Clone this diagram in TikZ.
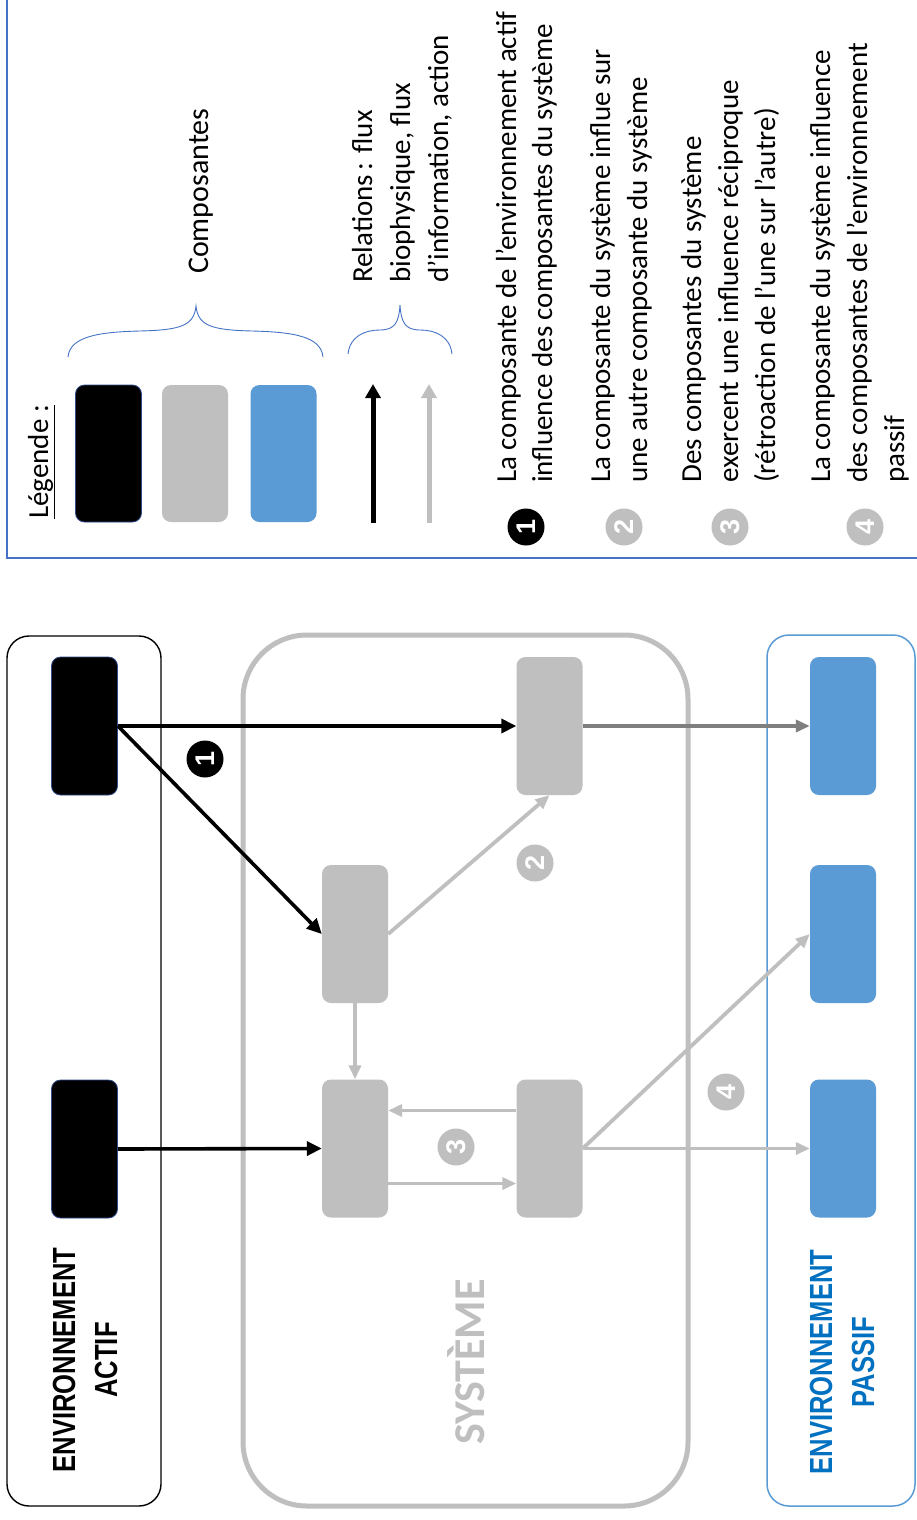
\documentclass[tikz,border=0pt]{standalone}
\usepackage{fontspec}
\setmainfont{Carlito}
\newfontfamily\headfont[FakeStretch=0.8]{Liberation Sans}
\newfontfamily\digitfont{Liberation Sans}
\usetikzlibrary{arrows.meta}
\definecolor{cgray}{HTML}{BFBFBF}
\definecolor{cdgray}{HTML}{7F7F7F}
\definecolor{cblue}{HTML}{5B9BD5}
\definecolor{cframe}{HTML}{4472C4}
\definecolor{ctblue}{HTML}{0070C0}
\definecolor{cdark}{HTML}{2F4B8C}
\begin{document}
\begin{tikzpicture}[x=1pt,y=-1pt,
  comp/.style={rectangle, rounded corners=9pt, minimum width=66pt, minimum height=138pt, inner sep=0pt},
  blackcomp/.style={comp, fill=black, draw=cdark, line width=0.8pt},
  graycomp/.style={comp, fill=cgray},
  bluecomp/.style={comp, fill=cblue},
  txt/.style={rotate=90, anchor=base west, inner sep=0pt, font=\fontsize{29}{35}\selectfont},
  numcirc/.style={circle, minimum size=37pt, inner sep=0pt, text=white, font=\digitfont\bfseries\fontsize{27}{27}\selectfont, rotate=90},
  blackarrow/.style={line width=3.6pt, draw=black, -{Triangle[length=15pt,width=14pt]}},
  grayarrow/.style={line width=3.8pt, draw=cgray, -{Triangle[length=14pt,width=12pt]}},
  dgrayarrow/.style={line width=3.8pt, draw=cdgray, -{Triangle[length=14pt,width=12pt]}},
  legarrow/.style={line width=5pt, -{Triangle[length=14pt,width=15pt]}},
  bracestyle/.style={draw=cframe, line width=0.9pt},
  headtxt/.style={rotate=90, align=center, inner sep=0pt, font=\headfont\bfseries\fontsize{32}{42}\selectfont},
]
\useasboundingbox (0,0) rectangle (916,1520);
\fill[white] (0,0) rectangle (916,1520);

% ---------- Legend ----------
\draw[cframe, line width=1.6pt] (7,-20) -- (7,558) -- (940,558);
\node[txt] (legtitle) at (48,519) {\underline{Légende :}};
\node[blackcomp, minimum width=66pt, minimum height=137pt] (lk) at (108.5,453.5) {};
\node[graycomp, minimum width=66pt, minimum height=137pt] (lg) at (195,453.5) {};
\node[bluecomp, minimum width=66pt, minimum height=137pt] (lb) at (283.5,453.5) {};
\draw[bracestyle] (68,357) .. controls (70,336) and (100,332) .. (140,331)
  .. controls (180,330) and (194,326) .. (196,306)
  .. controls (198,326) and (212,330) .. (252,331)
  .. controls (292,332) and (321,336) .. (323,357);
\node[txt, font=\fontsize{30}{36}\selectfont] (lcomp) at (208,274) {Composantes};
\coordinate (lka) at (373,523);
\coordinate (lkb) at (373,384);
\coordinate (lga) at (429,523);
\coordinate (lgb) at (429,384);
\draw[legarrow, draw=black] (lka) -- (lkb);
\draw[legarrow, draw=cgray] (lga) -- (lgb);
\draw[bracestyle] (348,354) .. controls (350,336) and (365,330) .. (380,330)
  .. controls (395,330) and (399,322) .. (400,305)
  .. controls (401,322) and (405,330) .. (420,330)
  .. controls (435,330) and (450,336) .. (452,354);
\node[txt, font=\fontsize{29}{36}\selectfont] (lrel1) at (372,283) {Relations\,: flux};
\node[txt, font=\fontsize{29}{36}\selectfont] (lrel2) at (410,283) {biophysique, flux};
\node[txt, font=\fontsize{29}{36}\selectfont] (lrel3) at (448,283) {d’information, action};

\node[numcirc, fill=black] (n1) at (526,527) {1};
\node[numcirc, fill=cgray] (n2) at (624,527) {2};
\node[numcirc, fill=cgray] (n3) at (730,527) {3};
\node[numcirc, fill=cgray] (n4) at (865,527) {4};
\node[txt] (t1a) at (516,483) {La composante de l’environnement actif};
\node[txt] (t1b) at (552,483) {influence des composantes du système};
\node[txt] (t2a) at (610,483) {La composante du système influe sur};
\node[txt] (t2b) at (647,483) {une autre composante du système};
\node[txt] (t3a) at (701,483) {Des composantes du système};
\node[txt] (t3b) at (738,483) {exercent une influence réciproque};
\node[txt] (t3c) at (775,483) {(rétroaction de l’une sur l’autre)};
\node[txt] (t4a) at (830,483) {La composante du système influence};
\node[txt] (t4b) at (867,483) {des composantes de l’environnement};
\node[txt] (t4c) at (904,483) {passif};

% ---------- Frames ----------
\draw[black, line width=1.4pt, rounded corners=22pt] (7,636) rectangle (161,1506);
\draw[cgray, line width=5pt, rounded corners=64pt] (243,635) rectangle (688,1506);
\draw[cblue, line width=1.5pt, rounded corners=22pt] (767,635) rectangle (915,1506);

\node[headtxt] (actif) at (85,1360) {ENVIRONNEMENT\\ACTIF};
\node[headtxt, text=ctblue] (passif) at (842,1362) {ENVIRONNEMENT\\PASSIF};
\node[rotate=90, anchor=base, inner sep=0pt, text=cgray, font=\fontsize{44}{44}\selectfont\bfseries] (sys) at (484,1362) {SYSTÈME};

% ---------- Components ----------
\node[blackcomp] (A1) at (84.5,726) {};
\node[blackcomp] (A2) at (84.5,1149) {};
\node[graycomp] (S1) at (549.5,726) {};
\node[graycomp] (S2) at (355,934) {};
\node[graycomp] (S3) at (355,1148.5) {};
\node[graycomp] (S4) at (549.5,1148.5) {};
\node[bluecomp] (P1) at (843,726) {};
\node[bluecomp] (P2) at (843,934) {};
\node[bluecomp] (P3) at (843,1148.5) {};

% ---------- Connectors ----------
\draw[blackarrow] (A1.east) -- (S1.west);
\draw[blackarrow] (A1.east) -- (S2.west);
\draw[blackarrow] (A2.east) -- (S3.west);
\draw[dgrayarrow] (S1.east) -- (P1.west);
\draw[grayarrow] (S2.east) -- (S1.south);
\draw[grayarrow] (S2.south) -- (S3.north);
\draw[grayarrow] ([yshift=38pt]S4.west) -- ([yshift=38pt]S3.east);
\draw[grayarrow] ([yshift=-35pt]S3.east) -- ([yshift=-35pt]S4.west);
\draw[grayarrow] (S4.east) -- (P3.west);
\draw[grayarrow] (S4.east) -- (P2.west);

\node[numcirc, fill=black] (c1) at (205,759) {1};
\node[numcirc, fill=cgray] (c2) at (535,863) {2};
\node[numcirc, fill=cgray] (c3) at (456,1147) {3};
\node[numcirc, fill=cgray] (c4) at (726,1092) {4};
\end{tikzpicture}
\end{document}
